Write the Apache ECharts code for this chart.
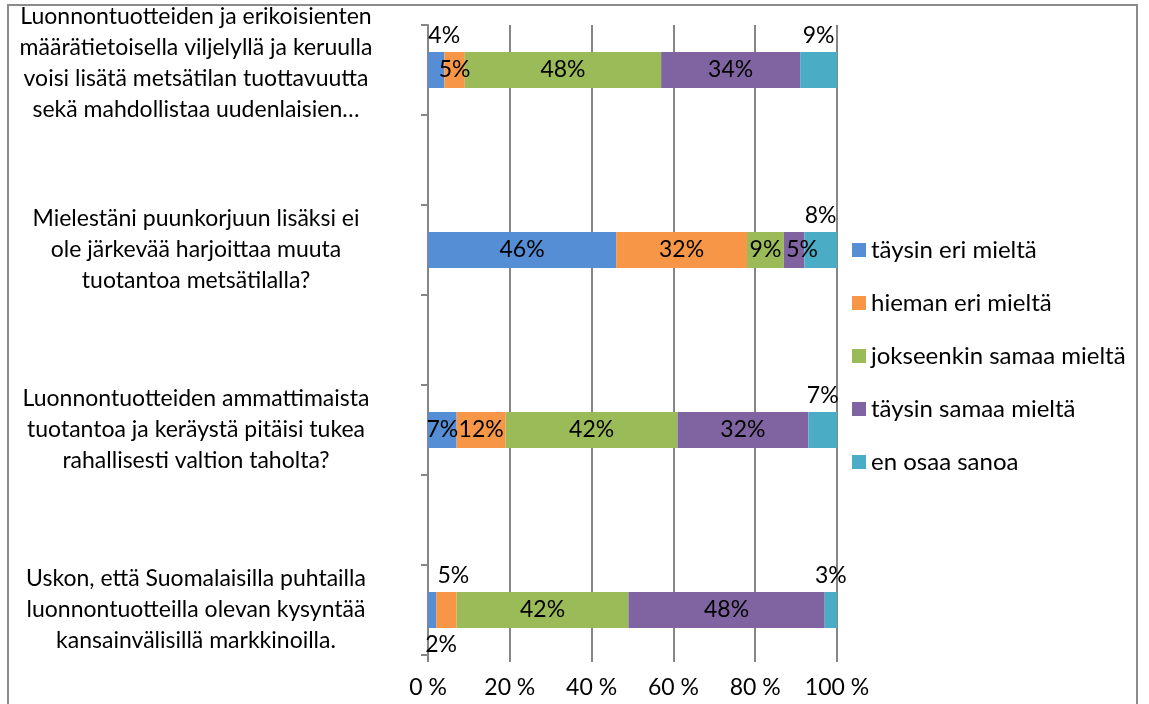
<!DOCTYPE html>
<html>
<head>
<meta charset="utf-8">
<script src="https://cdn.jsdelivr.net/npm/echarts@6/dist/echarts.min.js"></script>
<style>
html,body{margin:0;padding:0;background:#fff;}
#frame{position:absolute;left:7px;top:4px;width:1131px;height:720px;border:2px solid #8c8c8c;box-sizing:border-box;}
#chart{position:absolute;left:0;top:0;width:1149px;height:704px;}
</style>
</head>
<body>
<div id="frame"></div>
<div id="chart"></div>
<script>
// ---- data ----
const questions = [
  'Luonnontuotteiden ja erikoisienten\nmäärätietoisella viljelyllä ja keruulla\nvoisi lisätä metsätilan tuottavuutta\nsekä mahdollistaa uudenlaisien…',
  'Mielestäni puunkorjuun lisäksi ei\nole järkevää harjoittaa muuta\ntuotantoa metsätilalla?',
  'Luonnontuotteiden ammattimaista\ntuotantoa ja keräystä pitäisi tukea\nrahallisesti valtion taholta?',
  'Uskon, että Suomalaisilla puhtailla\nluonnontuotteilla olevan kysyntää\nkansainvälisillä markkinoilla.'
];
const seriesNames = ['täysin eri mieltä', 'hieman eri mieltä', 'jokseenkin samaa mieltä', 'täysin samaa mieltä', 'en osaa sanoa'];
const taysinEri   = [4, 46, 7, 2];
const hiemanEri   = [5, 32, 12, 5];
const jokseenkin  = [48, 9, 42, 42];
const taysinSamaa = [34, 5, 32, 48];
const enOsaa      = [9, 8, 7, 3];
const xTicks = ['0 %', '20 %', '40 %', '60 %', '80 %', '100 %'];

// ---- styling ----
const colors = ['#558ed5', '#f79646', '#9bbb59', '#8064a2', '#4bacc6'];
const FONT = 'Lato';
const FS = 23;

// label placement overrides: [seriesIndex][questionIndex] -> label options
const labelOverrides = {
  '0-0': {position: 'top', offset: [8, 0]},
  '0-3': {position: 'bottom', offset: [9, 0]},
  '1-3': {position: 'top', offset: [7, 0]},
  '3-1': {offset: [8, 0]},
  '4-0': {position: 'top'},
  '4-1': {position: 'top'},
  '4-2': {position: 'top'},
  '4-3': {position: 'top'}
};

// axis has blank spacer rows between the questions
const categories = [];
questions.forEach((q, i) => {
  if (i > 0) categories.push('');
  categories.push(q);
});

const allValues = [taysinEri, hiemanEri, jokseenkin, taysinSamaa, enOsaa];
const series = allValues.map((vals, si) => {
  const data = [];
  vals.forEach((v, qi) => {
    if (qi > 0) data.push('-');
    const item = {value: v};
    const ov = labelOverrides[si + '-' + qi];
    if (ov) item.label = ov;
    data.push(item);
  });
  return {
    name: seriesNames[si],
    type: 'bar',
    stack: 'total',
    barWidth: 36,
    itemStyle: {color: colors[si]},
    label: {
      show: true, position: 'inside', color: '#000',
      fontFamily: FONT, fontSize: FS, formatter: '{c}%'
    },
    data: data
  };
});

const chart = echarts.init(document.getElementById('chart'));
chart.setOption({
  animation: false,
  textStyle: {fontFamily: FONT},
  grid: {left: 428, right: 312, top: 25, bottom: 49, containLabel: false, outerBoundsMode: 'none'},
  legend: {
    orient: 'vertical', left: 847, top: 233,
    itemWidth: 14, itemHeight: 14, itemGap: 29,
    icon: 'rect',
    textStyle: {fontFamily: FONT, fontSize: 24, color: '#000'},
    data: seriesNames
  },
  xAxis: {
    type: 'value', min: 0, max: 100, interval: 20,
    axisLine: {show: false},
    axisTick: {show: true, length: 7, lineStyle: {color: '#868686', width: 2}},
    splitLine: {show: true, lineStyle: {color: '#868686', width: 2}},
    axisLabel: {
      color: '#000', fontFamily: FONT, fontSize: FS, margin: 21,
      formatter: (v) => xTicks[Math.round(v / 20)]
    }
  },
  yAxis: {
    type: 'category', inverse: true, data: categories,
    axisLine: {show: true, lineStyle: {color: '#868686', width: 2}},
    axisTick: {show: true, length: 7, lineStyle: {color: '#868686', width: 2}},
    axisLabel: {
      color: '#000', fontFamily: FONT, fontSize: FS, lineHeight: 31,
      align: 'center', margin: 232, interval: 0,
      // the first (4-line) label sits a little higher in the original:
      // a short trailing spacer line lifts the centred block
      formatter: (value, index) => {
        if (index !== 0) return value;
        return value.split('\n').map(l => '{t|' + l + '}').join('\n') + '\n{s| }';
      },
      rich: {
        t: {fontFamily: FONT, fontSize: FS, lineHeight: 31, color: '#000'},
        s: {fontSize: 2, lineHeight: 13}
      }
    }
  },
  series: series
});
</script>
</body>
</html>
